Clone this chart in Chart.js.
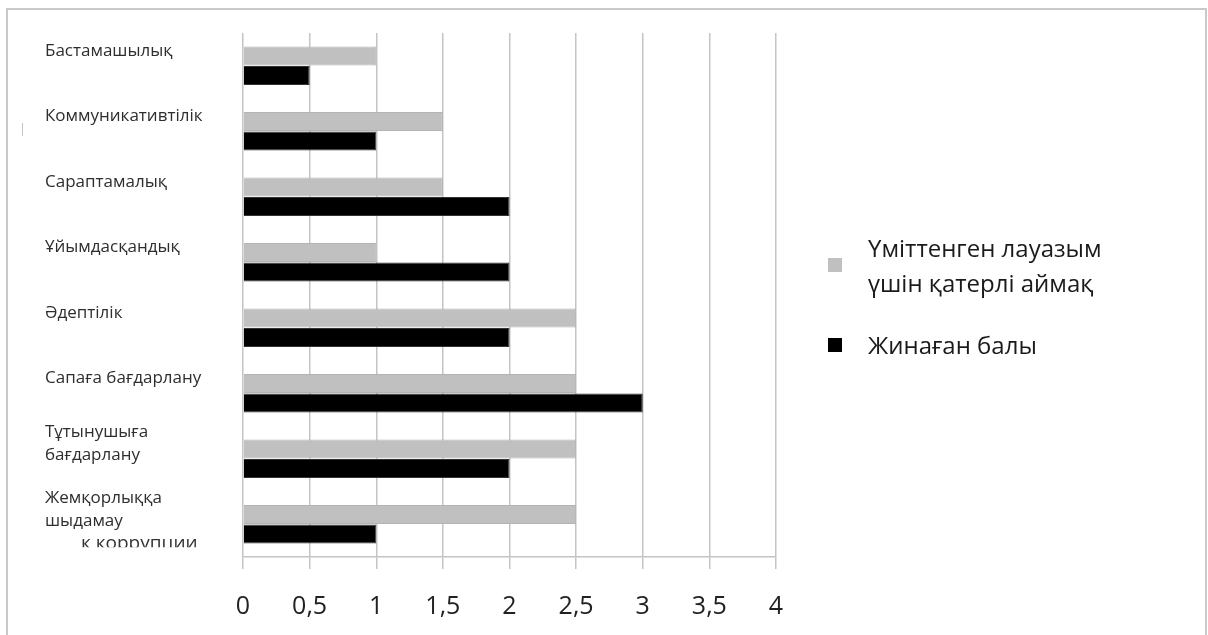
<!DOCTYPE html>
<html>
<head>
<meta charset="utf-8">
<script src="https://cdn.jsdelivr.net/npm/chart.js@4.4.0/dist/chart.umd.min.js"></script>
<style>
  html, body { margin: 0; padding: 0; background: #fff; overflow: hidden; }
  #wrap { position: relative; width: 1208px; height: 635px; }
  #frame { position: absolute; left: 6px; top: 8px; width: 1201px; height: 660px; border: 2px solid #c9c9c9; box-sizing: border-box; pointer-events: none; }
  #mark { position: absolute; left: 22px; top: 123px; width: 1px; height: 13px; background: #c4c4c4; }
  #legend { position: absolute; left: 828px; top: 230px; font-family: 'Open Sans', sans-serif; font-size: 24px; color: #1a1a1a; }
  .item { display: flex; align-items: center; margin-bottom: 27px; }
  .box { width: 14px; height: 14px; margin-right: 26px; }
  .txt { line-height: 35px; }
</style>
</head>
<body>
<div id="wrap">
  <canvas id="myChart" width="1208" height="635"></canvas>
  <div id="frame"></div>
  <div id="mark"></div>
  <div id="legend"></div>
</div>
<script>
var categories = [
	'Бастамашылық',
	'Коммуникативтілік',
	'Сараптамалық',
	'Ұйымдасқандық',
	'Әдептілік',
	'Сапаға бағдарлану',
	['Тұтынушыға', 'бағдарлану'],
	['Жемқорлыққа', 'шыдамау'],
];
var riskZone = [1, 1.5, 1.5, 1, 2.5, 2.5, 2.5, 2.5];
var scored = [0.5, 1, 2, 2, 2, 3, 2, 1];
var seriesNames = [
	['Үміттенген лауазым', 'үшін қатерлі аймақ'],
	['Жинаған балы'],
];
var seriesColors = ['#c0c0c0', '#000000'];
var xTicks = ['0', '0,5', '1', '1,5', '2', '2,5', '3', '3,5', '4'];

// leftover text under the last category label, half hidden
var strayText = 'к коррупции';

var strayPlugin = {
	id: 'stray',
	afterDraw: function (chart) {
		var ctx = chart.ctx;
		var y = chart.scales.y.getPixelForValue(categories.length - 1) + 19;
		ctx.save();
		ctx.beginPath();
		ctx.rect(0, y - 14, 240, 18);
		ctx.clip();
		ctx.font = '19px "Open Sans"';
		ctx.fillStyle = '#333';
		ctx.textBaseline = 'middle';
		ctx.fillText(strayText, 81, y);
		ctx.restore();
	},
};

new Chart('myChart', {
	type: 'bar',
	data: {
		labels: categories,
		datasets: [
			{
				label: seriesNames[0].join(' '),
				data: riskZone,
				backgroundColor: seriesColors[0],
				borderColor: '#b4b4b4',
				borderWidth: 1,
			},
			{
				label: seriesNames[1].join(' '),
				data: scored,
				backgroundColor: seriesColors[1],
				borderColor: '#333',
				borderWidth: 1,
			},
		],
	},
	options: {
		indexAxis: 'y',
		responsive: false,
		animation: false,
		categoryPercentage: 0.6,
		barPercentage: 0.97,
		layout: { padding: { left: 45, top: 33, right: 432, bottom: 0 } },
		plugins: {
			legend: { display: false },
			tooltip: { enabled: false },
		},
		scales: {
			x: {
				min: 0,
				max: 4,
				ticks: {
					stepSize: 0.5,
					padding: 23,
					color: '#222',
					font: { family: 'Open Sans', size: 25 },
					callback: function (v, i) { return xTicks[i]; },
				},
				grid: { color: '#c4c4c4', lineWidth: 1.5, tickLength: 12 },
				border: { display: true, color: '#c4c4c4', width: 1.5 },
				afterFit: function (s) { s.height = 78; },
			},
			y: {
				ticks: {
					crossAlign: 'far',
					labelOffset: -15,
					color: '#2e2e2e',
					font: { family: 'Open Sans', size: 17, lineHeight: 1.35 },
				},
				grid: {
					drawOnChartArea: false,
					tickLength: 13,
					lineWidth: 1.5,
					color: function (c) { return c.index === categories.length ? '#c4c4c4' : 'rgba(0,0,0,0)'; },
				},
				border: { display: false },
				afterFit: function (s) { s.width = 198; },
			},
		},
	},
	plugins: [strayPlugin],
});

var legend = document.getElementById('legend');
seriesNames.forEach(function (lines, i) {
	var item = document.createElement('div');
	item.className = 'item';
	var box = document.createElement('div');
	box.className = 'box';
	box.style.background = seriesColors[i];
	var txt = document.createElement('div');
	txt.className = 'txt';
	txt.innerHTML = lines.join('<br>');
	item.appendChild(box);
	item.appendChild(txt);
	legend.appendChild(item);
});
</script>
</body>
</html>
